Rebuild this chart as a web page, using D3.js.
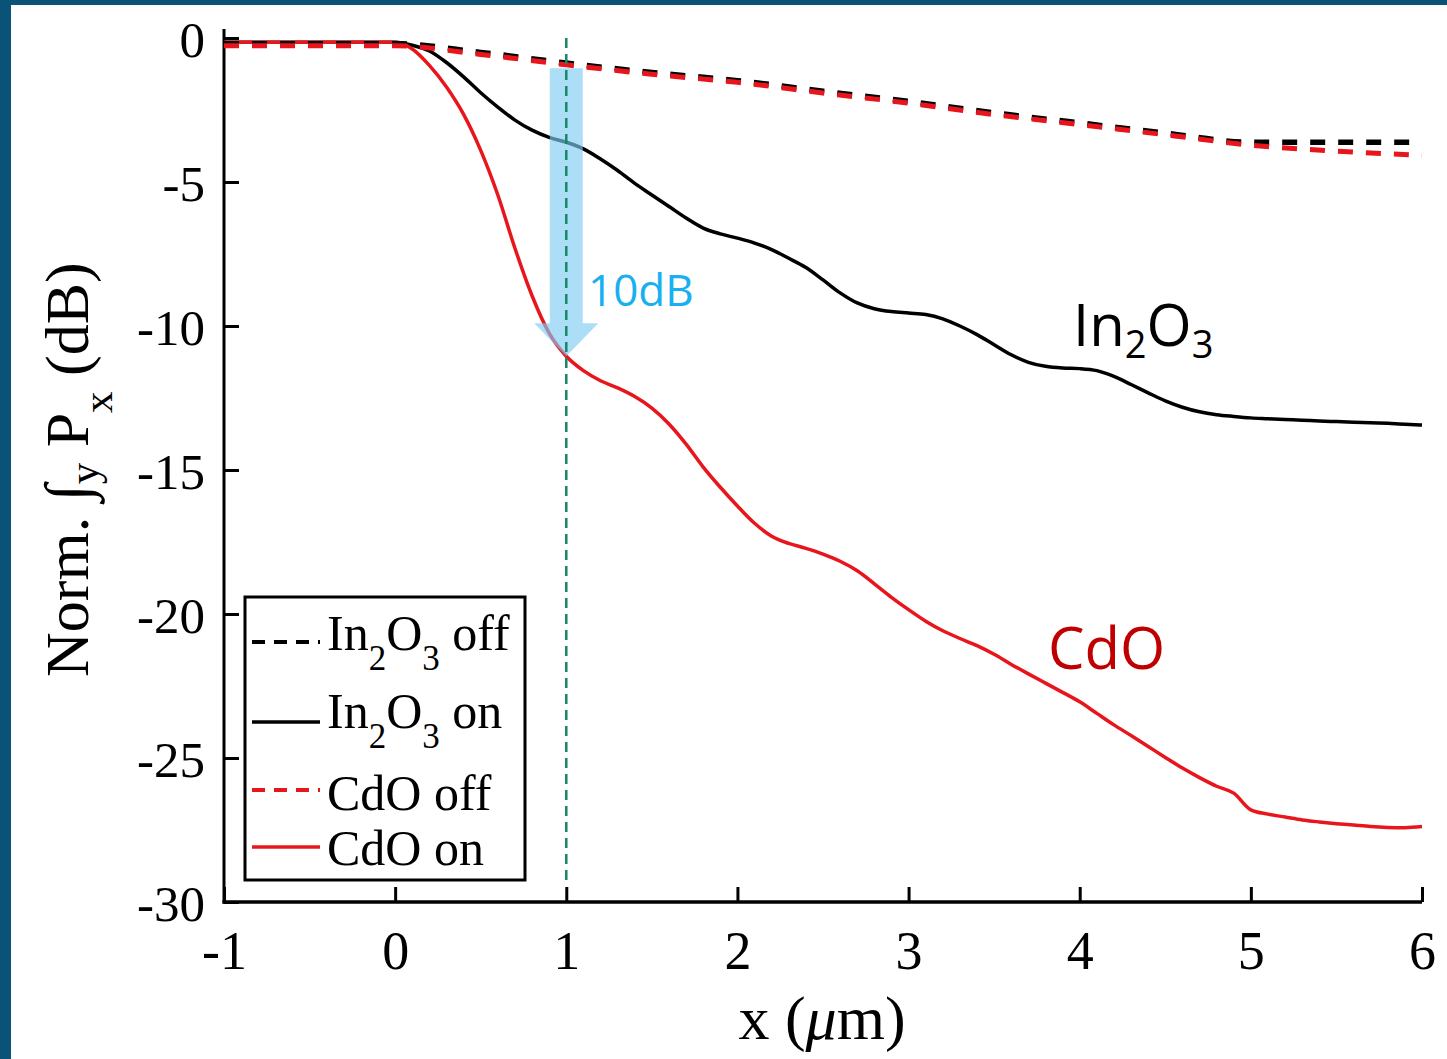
<!DOCTYPE html>
<html><head><meta charset="utf-8">
<script src="https://cdn.jsdelivr.net/npm/d3@7"></script>
<style>
html,body{margin:0;padding:0;background:#fff;}
svg{display:block;}
</style></head>
<body>
<svg id="chart" width="1447" height="1059"></svg>
<script>
// ---------- data ----------
const xOn = [-1, 0, 0.1, 0.2, 0.3, 0.4, 0.5, 0.6, 0.7, 0.8, 0.9, 1.0, 1.1, 1.2, 1.3, 1.4, 1.5, 1.6, 1.7, 1.8, 1.9,
  2.0, 2.1, 2.2, 2.3, 2.4, 2.5, 2.6, 2.7, 2.8, 2.9, 3.0, 3.1, 3.2, 3.3, 3.4, 3.5, 3.6, 3.7, 3.8, 3.9,
  4.0, 4.1, 4.2, 4.3, 4.4, 4.5, 4.6, 4.7, 4.8, 4.9, 5.0, 5.1, 5.2, 5.3, 5.4, 5.5, 5.6, 5.7, 5.8, 5.9, 6.0];
const in2o3On = [-0.15, -0.15, -0.25, -0.45, -0.85, -1.35, -1.9, -2.4, -2.85, -3.2, -3.45, -3.62, -3.85, -4.2, -4.6, -5.05,
  -5.45, -5.85, -6.25, -6.6, -6.8, -6.95, -7.12, -7.35, -7.65, -7.97, -8.4, -8.85, -9.2, -9.4, -9.5, -9.55, -9.6,
  -9.75, -10.0, -10.3, -10.65, -11.0, -11.26, -11.4, -11.46, -11.48, -11.55, -11.75, -12.03, -12.32, -12.6, -12.82,
  -12.98, -13.08, -13.14, -13.19, -13.22, -13.25, -13.27, -13.3, -13.32, -13.34, -13.36, -13.38, -13.41, -13.44];
const cdoOn = [-0.15, -0.15, -0.38, -0.95, -1.7, -2.65, -3.9, -5.45, -7.3, -8.95, -10.25, -11.05, -11.55, -11.9, -12.15, -12.45,
  -12.85, -13.4, -14.1, -14.9, -15.6, -16.25, -16.85, -17.3, -17.55, -17.72, -17.92, -18.17, -18.5, -18.95, -19.42,
  -19.85, -20.25, -20.58, -20.85, -21.1, -21.4, -21.75, -22.08, -22.4, -22.72, -23.05, -23.45, -23.85, -24.22, -24.6,
  -24.98, -25.35, -25.68, -25.98, -26.22, -26.8, -26.95, -27.05, -27.15, -27.22, -27.28, -27.33, -27.38, -27.41, -27.42, -27.38];
const xOff = [-1, 0, 0.5, 1, 1.5, 2, 2.5, 3, 3.5, 4, 4.5, 5, 5.5, 6];
const in2o3Off = [-0.2, -0.2, -0.5, -0.87, -1.2, -1.48, -1.85, -2.2, -2.6, -2.95, -3.3, -3.62, -3.62, -3.62];
const cdoOff = [-0.27, -0.27, -0.57, -0.93, -1.26, -1.54, -1.91, -2.26, -2.66, -3.01, -3.36, -3.72, -3.93, -4.07];
const xTicks = [-1, 0, 1, 2, 3, 4, 5, 6];
const yTicks = [0, -5, -10, -15, -20, -25, -30];
const markerX = 1;               // dashed vertical marker
const arrowFrom = -1.05, arrowTo = -11.05;  // 10 dB arrow span
const legendLabels = [
  {name: "In", s1: "2", mid: "O", s2: "3", tail: " off"},
  {name: "In", s1: "2", mid: "O", s2: "3", tail: " on"},
  {name: "CdO off"},
  {name: "CdO on"}
];

// ---------- layout ----------
const svg = d3.select("#chart");
const x = d3.scaleLinear().domain([-1, 6]).range([224, 1422]);
const y = d3.scaleLinear().domain([-30, 0]).range([902, 38]);
const serif = "'Liberation Serif','Times New Roman',serif";
const sans = "'Open Sans','Noto Sans',sans-serif";
const RED = "#e8161c";

// frame
svg.append("rect").attr("x",0).attr("y",0).attr("width",1447).attr("height",1059).attr("fill","#fff");
svg.append("rect").attr("x",0).attr("y",0).attr("width",1447).attr("height",5).attr("fill","#0b5279");
svg.append("rect").attr("x",0).attr("y",0).attr("width",11).attr("height",1059).attr("fill","#0b5279");

// axes
const yAxis = d3.axisLeft(y).tickValues(yTicks).tickSizeInner(-15).tickSizeOuter(0).tickPadding(19).tickFormat(d => String(d));
const gy = svg.append("g").attr("transform", `translate(${x(-1)},0)`).call(yAxis);
gy.select(".domain").remove();
gy.selectAll(".tick line").attr("stroke","#000").attr("stroke-width",3);
gy.selectAll(".tick text").attr("font-family",serif).attr("font-size",51).attr("fill","#000").attr("dy","0.37em");

const xAxis = d3.axisBottom(x).tickValues(xTicks).tickSizeInner(-15).tickSizeOuter(0).tickPadding(29).tickFormat(d => String(d));
const gx = svg.append("g").attr("transform", `translate(0,${y(-30)})`).call(xAxis);
gx.select(".domain").remove();
gx.selectAll(".tick line").attr("stroke","#000").attr("stroke-width",3);
gx.selectAll(".tick text").attr("font-family",serif).attr("font-size",54).attr("fill","#000").attr("dy","0.71em");

svg.append("line").attr("x1",x(-1)).attr("x2",x(-1)).attr("y1",y(0)-9).attr("y2",y(-30)+1.5)
  .attr("stroke","#000").attr("stroke-width",3);
svg.append("line").attr("x1",x(-1)-1.5).attr("x2",x(6)).attr("y1",y(-30)).attr("y2",y(-30))
  .attr("stroke","#000").attr("stroke-width",3.5);

// axis titles
const yl = svg.append("text").attr("transform",`translate(88,677) rotate(-90)`)
  .attr("font-family",serif).attr("font-size",62).attr("fill","#000");
yl.append("tspan").text("Norm. ");
yl.append("tspan").attr("font-style","italic").attr("font-size",62).text("\u222B");
yl.append("tspan").attr("font-size",43).attr("dy",10).text("y");
yl.append("tspan").attr("dy",-10).text(" P");
yl.append("tspan").attr("font-size",43).attr("dy",24).text("x");
yl.append("tspan").attr("dy",-24).text(" (dB)");

const xl = svg.append("text").attr("x",822).attr("y",1039).attr("text-anchor","middle")
  .attr("font-family",serif).attr("font-size",62).attr("fill","#000");
xl.append("tspan").text("x (");
xl.append("tspan").attr("font-style","italic").text("\u03BC");
xl.append("tspan").text("m)");

// curves
const line = d3.line().x(d => x(d[0])).y(d => y(d[1])).curve(d3.curveMonotoneX);
const zipOn = arr => xOn.map((v,i) => [v, arr[i]]);
const zipOff = arr => xOff.map((v,i) => [v, arr[i]]);

svg.append("path").datum(zipOn(in2o3On)).attr("d",line).attr("fill","none").attr("stroke","#000").attr("stroke-width",3.5);
svg.append("path").datum(zipOn(cdoOn)).attr("d",line).attr("fill","none").attr("stroke",RED).attr("stroke-width",3.5);
svg.append("path").datum(zipOff(in2o3Off)).attr("d",line).attr("fill","none").attr("stroke","#000").attr("stroke-width",5.5).attr("stroke-dasharray","15,13");
svg.append("path").datum(zipOff(cdoOff)).attr("d",line).attr("fill","none").attr("stroke",RED).attr("stroke-width",5).attr("stroke-dasharray","15,13");

// 10 dB arrow
const ax = x(markerX), y0 = y(arrowFrom), y1 = y(arrowTo);
const sw = 16.5, hw = 32, hl = 33;
svg.append("path")
  .attr("d", `M${ax-sw},${y0} L${ax+sw},${y0} L${ax+sw},${y1-hl} L${ax+hw},${y1-hl} L${ax},${y1} L${ax-hw},${y1-hl} L${ax-sw},${y1-hl} Z`)
  .attr("fill","#7fcdf5").attr("fill-opacity",0.65);

// vertical marker
svg.append("line").attr("x1",x(markerX)).attr("x2",x(markerX)).attr("y1",y(0)).attr("y2",y(-29.4))
  .attr("stroke","#16876a").attr("stroke-width",2.5).attr("stroke-dasharray","10,6");

// annotations
svg.append("text").attr("x",588).attr("y",306).attr("font-family",sans).attr("font-size",44).attr("fill","#19b0ef").text("10dB");
const lin = svg.append("text").attr("x",1073).attr("y",346).attr("font-family",sans).attr("font-size",58).attr("fill","#000");
lin.append("tspan").text("In");
lin.append("tspan").attr("font-size",38).attr("dy",12).text("2");
lin.append("tspan").attr("dy",-12).text("O");
lin.append("tspan").attr("font-size",38).attr("dy",12).text("3");
svg.append("text").attr("x",1048).attr("y",669).attr("font-family",sans).attr("font-size",58).attr("fill","#c00000").text("CdO");

// legend
const lg = svg.append("g");
lg.append("rect").attr("x",245).attr("y",597).attr("width",280).attr("height",283)
  .attr("fill","#fff").attr("stroke","#000").attr("stroke-width",3);
const legStyles = [
  {c:"#000", dash:"13,9", w:4},
  {c:"#000", dash:null, w:3.5},
  {c:RED, dash:"13,9", w:4},
  {c:RED, dash:null, w:3.5}
];
const lineYs = [642, 722, 790, 847];
const baseYs = [650, 728, 810, 865];
legendLabels.forEach((lab, i) => {
  const st = legStyles[i];
  const l = lg.append("line").attr("x1",252).attr("x2",320).attr("y1",lineYs[i]).attr("y2",lineYs[i])
    .attr("stroke",st.c).attr("stroke-width",st.w);
  if (st.dash) l.attr("stroke-dasharray",st.dash);
  const t = lg.append("text").attr("x",327).attr("y",baseYs[i]).attr("font-family",serif).attr("font-size",50).attr("fill","#000");
  if (lab.s1) {
    t.append("tspan").text(lab.name);
    t.append("tspan").attr("font-size",35).attr("dy",20).text(lab.s1);
    t.append("tspan").attr("dy",-20).text(lab.mid);
    t.append("tspan").attr("font-size",35).attr("dy",20).text(lab.s2);
    t.append("tspan").attr("dy",-20).text(lab.tail);
  } else {
    t.text(lab.name);
  }
});
</script>
</body></html>
